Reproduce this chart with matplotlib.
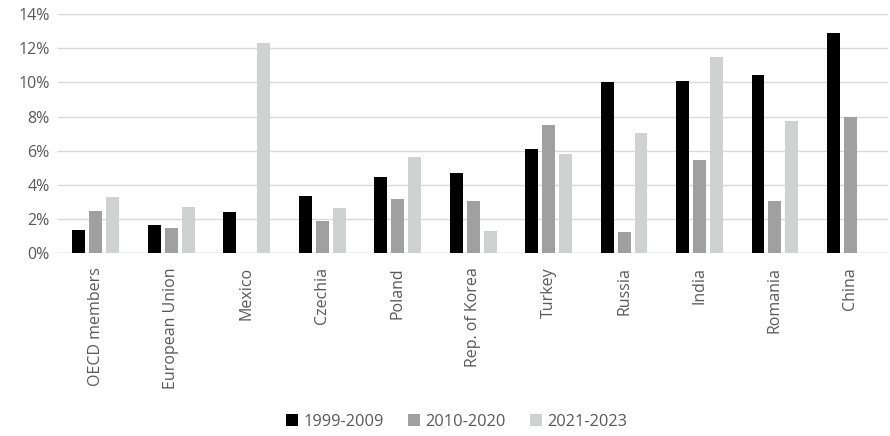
import matplotlib
matplotlib.use("Agg")
import matplotlib.pyplot as plt
import numpy as np
from matplotlib.ticker import FuncFormatter

plt.rcParams["font.family"] = ["Open Sans", "DejaVu Sans"]

countries = ["OECD members", "European Union", "Mexico", "Czechia", "Poland",
             "Rep. of Korea", "Turkey", "Russia", "India", "Romania", "China"]
series_names = ["1999-2009", "2010-2020", "2021-2023"]
v_1999_2009 = [1.36, 1.67, 2.42, 3.35, 4.46, 4.68, 6.08, 10.0, 10.08, 10.43, 12.87]
v_2010_2020 = [2.49, 1.50, 0.03, 1.89, 3.16, 3.06, 7.51, 1.25, 5.48, 3.06, 7.99]
v_2021_2023 = [3.28, 2.69, 12.32, 2.63, 5.65, 1.30, 5.81, 7.06, 11.47, 7.76, 0.0]
colors = ["#000000", "#A0A0A0", "#D0D2D1"]

fig = plt.figure(figsize=(8.9, 4.36), dpi=100)
ax = fig.add_axes([0.065, 0.419, 0.933, 0.549])

x = np.arange(len(countries))
width = 0.172
step = 0.225
for i, (vals, name, col) in enumerate(zip([v_1999_2009, v_2010_2020, v_2021_2023],
                                          series_names, colors)):
    ax.bar(x + (i - 1) * step, vals, width, color=col, label=name, zorder=3)

ax.set_xlim(-0.5, len(countries) - 0.5)
ax.set_ylim(0, 14)
ax.set_yticks(range(0, 15, 2))
ax.yaxis.set_major_formatter(FuncFormatter(lambda v, _: f"{v:.0f}%"))
ax.grid(axis="y", color="#D9D9D9", linewidth=1, zorder=0)
for s in ["top", "right", "left", "bottom"]:
    ax.spines[s].set_visible(False)
ax.axhline(0, color="#D9D9D9", linewidth=1, zorder=2)
ax.tick_params(axis="both", length=0, colors="#595959", labelsize=11.5)
ax.tick_params(axis="y", pad=6)
ax.tick_params(axis="x", pad=10)
ax.set_xticks(x)
ax.set_xticklabels(countries, rotation=90, va="top")

fig.legend(loc="lower center", bbox_to_anchor=(0.513, -0.02), ncol=3, frameon=False,
           fontsize=11.8, handlelength=0.75, handleheight=0.7, columnspacing=1.5,
           handletextpad=0.3, labelcolor="#595959")

fig.savefig("out.png", dpi=100)
